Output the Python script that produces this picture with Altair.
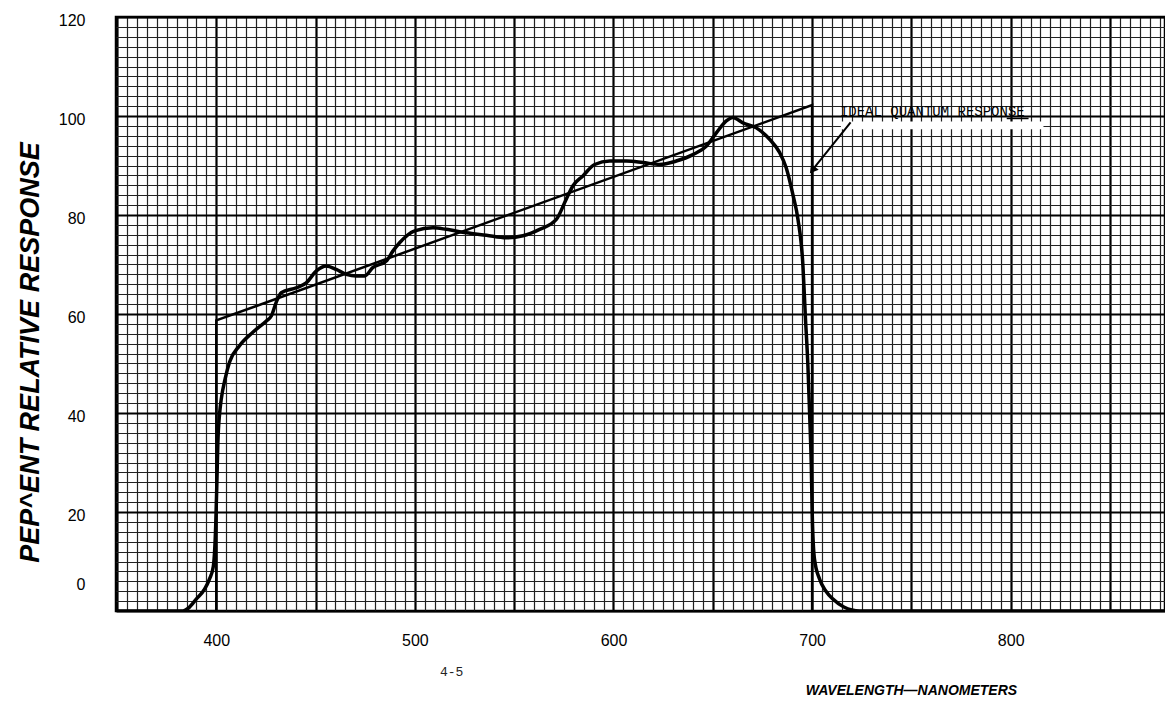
import altair as alt
import pandas as pd

# ---- data ----
wavelength = [350, 383.2, 386, 389.9, 394.1, 396.6, 398.5, 399.7, 400.3, 400.8, 401.7, 402.5,
              404.5, 406.7, 411.7, 418.4, 425.2, 427.7, 430.2, 432.7, 440.3, 445.3, 450.4,
              455.4, 460.4, 465.5, 470.5, 474.7, 478.9, 485.6, 488.9, 492.3, 499.9, 509.1,
              515.8, 525.9, 536.0, 546.0, 554.4, 562.8, 571.2, 576.2, 579.6, 584.6, 590.5,
              598.1, 606.5, 614.8, 623.2, 631.6, 640.0, 646.7, 651.8, 656.8, 660.1, 665.2,
              671.9, 678.6, 683.7, 687.0, 690.4, 692.9, 695.4, 696.6, 697.9, 698.8, 699.6,
              700.1, 701.2, 703.7, 707.0, 710.5, 716.0, 724.0, 880]
response = [0, 0, 0.6, 2.4, 4.4, 6.5, 9.0, 17.2, 26, 34, 40, 42.8,
            47, 50.3, 53.6, 56.3, 58.6, 59.6, 62.4, 64.3, 65.3, 66.3, 68.7,
            69.7, 69.0, 68.0, 67.7, 67.7, 69.4, 70.7, 72.7, 74.4, 76.8, 77.4,
            77.1, 76.4, 75.9, 75.4, 75.8, 77.1, 79.1, 83.2, 85.9, 87.9, 90.2,
            90.9, 90.9, 90.6, 90.2, 90.9, 92.2, 93.9, 96.6, 99.0, 99.7, 98.6,
            97.6, 95.3, 92.6, 89.5, 84.0, 79.1, 69.7, 59.6, 49.5, 39.4, 29.3,
            19.2, 10.5, 6.5, 4.0, 2.4, 0.8, 0, 0]

ideal_wl = [400, 400, 700, 700]
ideal_resp = [0, 58.7, 102.2, 0]

arrow_wl = [719.4, 700.6]
arrow_resp = [98.7, 89.3]

note_text = ["IDEAL QUANTUM RESPONSE"]
note_wl = [714.0]
note_resp = [100.1]
underline_wl = [798, 809]
underline_resp = [99.5, 99.5]
# paper erased under the typed note
erase_wl = [714.5]
erase_wl2 = [816.5]
erase_resp = [97.3]
erase_resp2 = [98.9]

page_text = ["4-5"]
page_wl = [518.5]
page_resp = [-12.3]

x_ticks = list(range(350, 880, 5))
y_ticks = list(range(0, 122, 2))

x_title = "WAVELENGTH\u2014NANOMETERS"
y_title = "PEP^ENT RELATIVE RESPONSE"

# ---- tables ----
curve_df = pd.DataFrame({"x": wavelength, "y": response, "i": range(len(wavelength))})
ideal_df = pd.DataFrame({"x": ideal_wl, "y": ideal_resp, "i": range(len(ideal_wl))})
arrow_df = pd.DataFrame({"x": arrow_wl, "y": arrow_resp, "i": range(len(arrow_wl))})
tip_df = pd.DataFrame({"x": arrow_wl[-1:], "y": arrow_resp[-1:]})
note_df = pd.DataFrame({"x": note_wl, "y": note_resp, "t": note_text})
under_df = pd.DataFrame({"x": underline_wl, "y": underline_resp, "i": range(2)})
erase_df = pd.DataFrame({"x": erase_wl, "x2": erase_wl2, "y": erase_resp, "y2": erase_resp2})
page_df = pd.DataFrame({"x": page_wl, "y": page_resp, "t": page_text})

xscale = alt.Scale(domain=[349.5, 877.7], nice=False, zero=False)
yscale = alt.Scale(domain=[0, 120], nice=False, zero=False)

x_axis = alt.Axis(
    values=x_ticks, tickCount=1000, format="d", grid=True, ticks=False, domain=False,
    gridColor={"condition": {"test": "datum.value % 50 === 0", "value": "#000000"}, "value": "#222222"},
    gridWidth={"condition": {"test": "datum.value % 50 === 0", "value": 2.2}, "value": 1.2},
    labelExpr="(datum.value % 100 === 0 && datum.value >= 400) ? datum.label : ''",
    labelOverlap=False, labelFlush=False, labelBound=False,
    labelFont="Liberation Sans", labelFontSize=16, labelColor="black", labelPadding=21,
    title=x_title, titleFont="Liberation Sans", titleFontSize=14,
    titleFontWeight="bold", titleFontStyle="italic", titleColor="black",
    titleX=795, titleY=79, titleAlign="center", titleBaseline="middle",
)
y_axis = alt.Axis(
    values=y_ticks, tickCount=1000, format="d", grid=True, ticks=False, domain=False,
    gridColor={"condition": {"test": "datum.value % 20 === 0", "value": "#000000"}, "value": "#222222"},
    gridWidth={"condition": {"test": "datum.value % 20 === 0", "value": 2.2}, "value": 1.2},
    labelExpr="(datum.value % 20 === 0) ? datum.label : ''",
    labelOverlap=False, labelFlush=False, labelBound=False,
    labelOffset={"condition": {"test": "datum.value === 0", "value": -27}, "value": 3},
    labelFont="Liberation Sans", labelFontSize=16, labelColor="black", labelPadding=31,
    title=y_title, titleFont="Liberation Sans", titleFontSize=27,
    titleFontWeight="bold", titleFontStyle="italic", titleColor="black",
    titleX=-86, titleY=335, titleAlign="center", titleBaseline="middle", titleAngle=270,
)

curve = alt.Chart(curve_df).mark_line(
    color="black", strokeWidth=3.5, interpolate="monotone", clip=True
).encode(
    x=alt.X("x:Q", scale=xscale, axis=x_axis),
    y=alt.Y("y:Q", scale=yscale, axis=y_axis),
    order=alt.Order("i:Q"),
)

erase = alt.Chart(erase_df).mark_rect(color="white", opacity=1).encode(
    x="x:Q", x2="x2", y="y:Q", y2="y2"
)

ideal = alt.Chart(ideal_df).mark_line(color="black", strokeWidth=2.5, clip=True).encode(
    x="x:Q", y="y:Q", order=alt.Order("i:Q")
)

arrow = alt.Chart(arrow_df).mark_line(color="black", strokeWidth=2).encode(
    x="x:Q", y="y:Q", order=alt.Order("i:Q")
)

tip = alt.Chart(tip_df).mark_point(
    shape="triangle", filled=True, color="black", size=90, angle=218, opacity=1
).encode(x="x:Q", y="y:Q")

note = alt.Chart(note_df).mark_text(
    align="left", baseline="alphabetic", font="Liberation Mono", fontSize=14, color="black"
).encode(x="x:Q", y="y:Q", text="t:N")

underline = alt.Chart(under_df).mark_line(color="black", strokeWidth=1.5).encode(
    x="x:Q", y="y:Q", order=alt.Order("i:Q")
)

page = alt.Chart(page_df).mark_text(
    align="center", baseline="middle", font="Liberation Mono", fontSize=13, color="#222"
).encode(x="x:Q", y="y:Q", text="t:N")

chart = alt.layer(erase, curve, ideal, arrow, tip, note, underline, page).properties(
    width=1049, height=594,
    autosize=alt.AutoSizeParams(type="none"),
    padding={"left": 108, "top": 9, "right": 0, "bottom": 85},
    background="white",
).configure_view(stroke="black", strokeWidth=2.5)

chart.save("out.html", embed_options={"renderer": "svg", "actions": False})
